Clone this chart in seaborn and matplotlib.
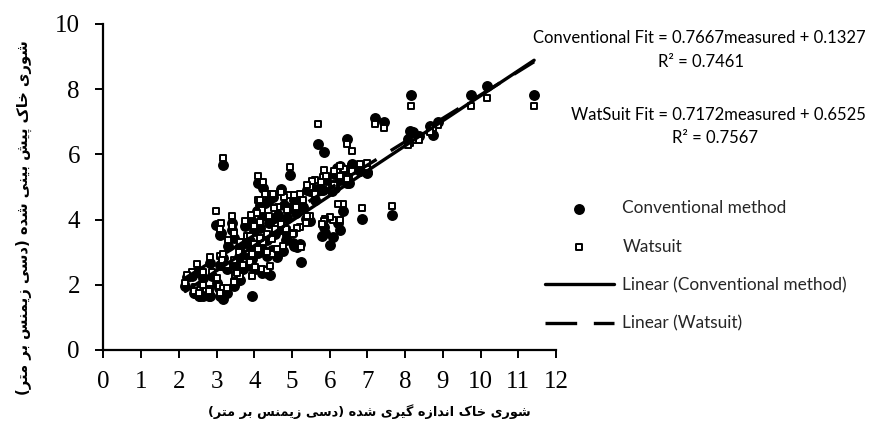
import numpy as np
import pandas as pd
import matplotlib
matplotlib.use("Agg")
import matplotlib.pyplot as plt
import seaborn as sns

# ---------------- data ----------------
measured = [11.42, 10.17, 9.75, 8.15, 8.88, 8.75, 8.67, 8.36, 8.22, 8.13, 8.08, 7.65, 7.45, 7.21,
            6.99, 6.85, 6.59, 6.46, 5.70, 5.84, 6.59, 6.37, 6.26, 6.19, 6.50, 6.46, 6.28, 6.15,
            6.06, 6.10, 5.83, 5.77, 5.62, 5.54, 5.48, 5.40, 5.22, 4.95, 4.93, 4.79, 4.71, 4.38,
            4.29, 4.24, 4.09, 4.11, 6.35, 6.23, 6.28, 6.08, 6.01, 5.88, 5.84, 5.79, 5.48, 5.40,
            5.38, 5.22, 5.13, 5.04, 5.02, 4.86, 4.85, 5.24, 4.64, 4.86, 4.51, 4.40, 4.20, 4.07,
            4.14, 2.99, 3.41, 3.11, 3.76, 3.10, 3.41, 3.45, 3.29, 3.80, 3.89, 3.63, 3.98, 4.24,
            4.47, 4.16, 4.33, 3.17, 4.47, 4.11, 4.33, 2.49, 2.83, 2.34, 2.21, 2.17, 2.65, 2.43,
            2.56, 2.83, 3.05, 3.17, 2.39, 2.52, 2.65, 2.79, 3.10, 3.94, 3.01, 2.88, 3.10, 3.18,
            3.14, 3.27, 3.45, 3.49, 3.63, 3.54, 3.71, 3.89, 4.02, 4.20, 4.33, 4.42, 3.45, 3.27,
            3.60, 3.80, 3.95, 4.60, 4.75, 4.55, 4.70, 4.00, 3.90, 4.15, 4.50, 5.05, 5.30, 5.10,
            5.60, 5.90, 6.10, 6.80, 7.00]
conventional = [7.82, 8.11, 7.82, 7.82, 6.99, 6.60, 6.88, 6.55, 6.69, 6.72, 6.47, 4.15, 6.99, 7.11,
                5.43, 4.02, 5.71, 6.48, 6.32, 6.07, 5.68, 5.48, 5.65, 5.58, 5.13, 5.12, 5.22, 4.97,
                4.87, 4.97, 4.90, 4.92, 4.94, 4.87, 4.87, 4.92, 4.51, 5.38, 4.36, 4.46, 4.94, 4.60,
                4.50, 4.97, 5.12, 4.25, 4.25, 3.90, 3.69, 3.47, 3.22, 3.59, 3.77, 3.50, 3.95, 4.02,
                4.02, 3.26, 3.16, 3.18, 3.29, 3.54, 3.38, 2.69, 4.15, 4.05, 4.05, 3.90, 4.10, 4.25,
                3.75, 3.84, 3.90, 3.60, 3.81, 3.54, 3.69, 3.44, 3.20, 3.30, 3.35, 3.18, 3.08, 3.08,
                3.08, 3.28, 3.38, 5.68, 3.03, 2.98, 2.87, 2.40, 2.67, 2.28, 2.24, 1.97, 2.20, 1.75,
                1.65, 1.67, 1.90, 1.57, 1.75, 1.65, 1.67, 1.67, 1.67, 1.65, 2.06, 2.26, 2.60, 2.82,
                2.62, 2.47, 2.62, 2.15, 2.16, 2.11, 2.47, 2.57, 2.47, 2.36, 2.36, 2.31, 1.95, 1.75,
                2.85, 2.90, 2.80, 2.85, 3.05, 3.55, 3.70, 3.65, 4.00, 4.45, 4.70, 4.60, 4.40, 4.20,
                4.60, 5.20, 5.40, 5.50, 5.45]
watsuit = [7.50, 7.72, 7.50, 7.50, 6.90, 6.80, 6.70, 6.45, 6.45, 6.35, 6.30, 4.43, 6.80, 6.93,
           5.60, 4.35, 6.09, 6.32, 6.93, 5.52, 5.50, 5.56, 5.63, 5.45, 5.30, 5.25, 5.35, 5.10,
           5.00, 5.05, 5.31, 5.14, 5.20, 5.17, 5.00, 5.05, 4.79, 5.61, 4.76, 4.68, 4.85, 4.78,
           4.78, 5.14, 5.34, 4.61, 4.49, 4.49, 4.00, 4.00, 4.08, 4.02, 3.95, 3.85, 4.10, 4.10,
           3.90, 3.77, 3.74, 3.59, 3.55, 3.67, 3.71, 3.15, 4.40, 4.30, 4.36, 4.12, 4.30, 4.20,
           3.92, 4.27, 4.12, 3.90, 3.95, 3.70, 3.80, 3.60, 3.38, 3.51, 3.51, 3.30, 3.25, 3.30,
           3.40, 3.45, 3.55, 5.89, 2.95, 3.10, 3.00, 2.65, 2.85, 2.40, 2.30, 2.05, 2.38, 1.92,
           1.85, 1.87, 1.95, 1.90, 1.80, 1.75, 2.00, 1.80, 1.75, 2.28, 2.20, 2.40, 2.87, 2.95,
           2.75, 2.60, 2.75, 2.31, 2.26, 2.35, 2.60, 2.70, 2.55, 2.50, 2.45, 2.57, 2.10, 1.90,
           3.00, 3.05, 2.95, 3.10, 3.20, 3.70, 3.85, 3.80, 4.15, 4.60, 4.80, 4.75, 4.60, 4.40,
           4.80, 5.35, 5.50, 5.70, 5.75]

series_names = ["Conventional method", "Watsuit"]
fit_names = ["Linear (Conventional method)", "Linear (Watsuit)"]
conv_slope, conv_intercept, conv_r2 = 0.7667, 0.1327, 0.7461
wat_slope, wat_intercept, wat_r2 = 0.7172, 0.6525, 0.7567

x_ticks = list(range(0, 13))
y_ticks = [0, 2, 4, 6, 8, 10]
x_label_fa = "شوری خاک اندازه گیری شده (دسی زیمنس بر متر)"
y_label_fa = "شوری خاک پیش بینی شده (دسی زیمنس بر متر)"

# ---------------- minimal Persian shaping (presentation forms) ----------------
DUAL = {
    '\u0634': ('\uFEB5', '\uFEB6', '\uFEB7', '\uFEB8'),
    '\u06CC': ('\uFBFC', '\uFBFD', '\uFBFE', '\uFBFF'),
    '\u062E': ('\uFEA5', '\uFEA6', '\uFEA7', '\uFEA8'),
    '\u06A9': ('\uFB8E', '\uFB8F', '\uFB90', '\uFB91'),
    '\u0646': ('\uFEE5', '\uFEE6', '\uFEE7', '\uFEE8'),
    '\u0647': ('\uFEE9', '\uFEEA', '\uFEEB', '\uFEEC'),
    '\u06AF': ('\uFB92', '\uFB93', '\uFB94', '\uFB95'),
    '\u0633': ('\uFEB1', '\uFEB2', '\uFEB3', '\uFEB4'),
    '\u0645': ('\uFEE1', '\uFEE2', '\uFEE3', '\uFEE4'),
    '\u0628': ('\uFE8F', '\uFE90', '\uFE91', '\uFE92'),
    '\u062A': ('\uFE95', '\uFE96', '\uFE97', '\uFE98'),
    '\u067E': ('\uFB56', '\uFB57', '\uFB58', '\uFB59'),
}
RIGHT = {
    '\u0648': ('\uFEED', '\uFEEE'),
    '\u0631': ('\uFEAD', '\uFEAE'),
    '\u0627': ('\uFE8D', '\uFE8E'),
    '\u062F': ('\uFEA9', '\uFEAA'),
    '\u0632': ('\uFEAF', '\uFEB0'),
}


def shape_rtl(text):
    text = text.replace('\u064A', '\u06CC').replace('\u0649', '\u06CC').replace('\u0643', '\u06A9')
    out = []
    n = len(text)
    for i, ch in enumerate(text):
        if ch in DUAL or ch in RIGHT:
            prev = text[i - 1] if i > 0 else ''
            nxt = text[i + 1] if i < n - 1 else ''
            jp = prev in DUAL
            jn = ch in DUAL and (nxt in DUAL or nxt in RIGHT)
            if ch in DUAL:
                iso, fin, ini, med = DUAL[ch]
                out.append(med if (jp and jn) else fin if jp else ini if jn else iso)
            else:
                iso, fin = RIGHT[ch]
                out.append(fin if jp else iso)
        else:
            out.append(ch)
    vis = ''.join(reversed(out))
    return vis.translate(str.maketrans('()', ')('))


# ---------------- plot ----------------
sns.set_theme(style="white")
plt.rcParams['font.family'] = ['Liberation Serif', 'DejaVu Sans']

fig = plt.figure(figsize=(8.7, 4.3), dpi=100)
ax = fig.add_axes([103.5 / 870, 1 - 350 / 430, 452.5 / 870, 326 / 430])

df = pd.DataFrame({
    "measured": measured + measured,
    "predicted": conventional + watsuit,
    "series": [series_names[0]] * len(measured) + [series_names[1]] * len(measured),
})

sns.scatterplot(data=df[df.series == series_names[0]], x="measured", y="predicted",
                marker="o", s=62, color="black", edgecolor="black", linewidth=0,
                ax=ax, label=series_names[0], zorder=2)
sns.scatterplot(data=df[df.series == series_names[1]], x="measured", y="predicted",
                marker="s", s=24, color="white", edgecolor="black", linewidth=1.4,
                ax=ax, label=series_names[1], zorder=3)

xs = np.array([min(measured), max(measured)])
sns.lineplot(x=xs, y=conv_slope * xs + conv_intercept, color="black", linewidth=2.4,
             ax=ax, label=fit_names[0], zorder=4)
sns.lineplot(x=xs, y=wat_slope * xs + wat_intercept, color="black", linewidth=2.4,
             linestyle=(0, (9.5, 5.0)), ax=ax, label=fit_names[1], zorder=4)

ax.set_xlim(0, 12)
ax.set_ylim(0, 10)
ax.set_xticks(x_ticks)
ax.set_yticks(y_ticks)
ax.set_xlabel("")
ax.set_ylabel("")
for side in ["top", "right"]:
    ax.spines[side].set_visible(False)
for side in ["left", "bottom"]:
    ax.spines[side].set_color("black")
    ax.spines[side].set_linewidth(1.6)
ax.tick_params(axis="both", direction="out", length=6, width=1.4, color="black",
               labelsize=18, labelcolor="black", left=True, bottom=True)
ax.tick_params(axis="x", pad=9)
ax.tick_params(axis="y", pad=11)
for lab in ax.get_xticklabels() + ax.get_yticklabels():
    lab.set_fontfamily("Liberation Serif")

handles, labels = ax.get_legend_handles_labels()
leg = ax.legend(handles, labels, loc="center left",
                bbox_to_anchor=(545 / 870, 1 - 266 / 430), bbox_transform=fig.transFigure,
                frameon=False, prop={"family": "Lato", "size": 12.4},
                handlelength=4.0, handletextpad=0.5, labelspacing=1.3,
                borderpad=0, borderaxespad=0, scatterpoints=1)

eq_font = {"family": "Lato", "size": 12, "color": "black"}
fig.text(699 / 870, 1 - 38 / 430, f"Conventional Fit = {conv_slope:.4f}measured + {conv_intercept:.4f}",
         ha="center", va="center", fontdict=eq_font)
fig.text(701 / 870, 1 - 62 / 430, f"R\u00b2 = {conv_r2:.4f}", ha="center", va="center", fontdict=eq_font)
fig.text(718 / 870, 1 - 115 / 430, f"WatSuit Fit = {wat_slope:.4f}measured + {wat_intercept:.4f}",
         ha="center", va="center", fontdict=eq_font)
fig.text(715 / 870, 1 - 138 / 430, f"R\u00b2 = {wat_r2:.4f}", ha="center", va="center", fontdict=eq_font)

fig.text(369 / 870, 1 - 412 / 430, shape_rtl(x_label_fa), ha="center", va="center",
         family=["DejaVu Sans"], fontweight="bold", fontsize=9.3, color="black")
fig.text(24 / 870, 1 - 218 / 430, shape_rtl(y_label_fa), ha="center", va="center", rotation=90,
         family=["DejaVu Sans"], fontweight="bold", fontsize=10.6, color="black")

fig.savefig("out.png", dpi=100)
